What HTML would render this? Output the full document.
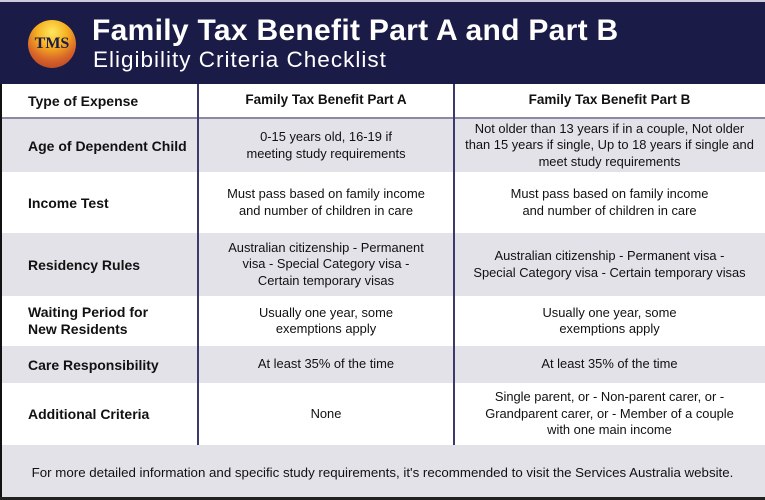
<!DOCTYPE html>
<html><head><meta charset="utf-8"><style>
*{margin:0;padding:0;box-sizing:border-box}
body{width:765px;height:500px;position:relative;background:#fff;font-family:"Liberation Sans",sans-serif;overflow:hidden;color:#111}
.ban{position:absolute;left:0;top:0;width:765px;height:84px;background:#1b1b47;border-top:2px solid #ccd}
.t1{position:absolute;left:92px;top:12px;font-size:30px;font-weight:bold;color:#fff;letter-spacing:0.3px}
.t2{position:absolute;left:93px;top:45px;font-size:22.5px;color:#fff;letter-spacing:1px}
.logo{position:absolute;left:28px;top:18px;width:48px;height:48px;border-radius:50%;background:radial-gradient(circle at 50% 25%,#ffe860 0,#f6b020 35%,#d8642a 65%,#a83a1e 100%)}
.logo span{position:absolute;left:0;width:48px;top:15px;text-align:center;font-family:"Liberation Serif",serif;font-size:16px;font-weight:bold;color:#1b1b47}
.row{position:absolute;left:0;width:765px;font-size:12.9px}
.g{background:#e3e2e8}
.c{position:absolute;top:0;height:100%;display:flex;align-items:center}
.c1{left:28px;width:170px;font-weight:bold;font-size:14px}
.c2{left:198px;width:256px;justify-content:center;text-align:center;line-height:16.5px}
.c3{left:454px;width:311px;justify-content:center;text-align:center;line-height:16.5px}
.v{position:absolute;top:84px;height:361px;width:1.5px;background:#3b3b6a}
.lb{position:absolute;left:0;top:84px;width:2px;height:416px;background:#111}
.bb{position:absolute;left:0;top:497px;width:765px;height:3px;background:#222}
</style></head><body>
<div class="ban"><div class="logo"><span>TMS</span></div>
<div class="t1">Family Tax Benefit Part A and Part B</div>
<div class="t2">Eligibility Criteria Checklist</div></div>
<div class="row" style="top:84px;height:35px;border-bottom:2px solid #8a8aa6"><div class="c c1">Type of Expense</div><div class="c c2" style="font-weight:bold;font-size:13.5px">Family Tax Benefit Part A</div><div class="c c3" style="font-weight:bold;font-size:13.5px">Family Tax Benefit Part B</div></div>
<div class="row g" style="top:119px;height:53px"><div class="c c1">Age of Dependent Child</div><div class="c c2">0-15 years old, 16-19 if<br>meeting study requirements</div><div class="c c3">Not older than 13 years if in a couple, Not older<br>than 15 years if single, Up to 18 years if single and<br>meet study requirements</div></div>
<div class="row" style="top:172px;height:61px"><div class="c c1">Income Test</div><div class="c c2">Must pass based on family income<br>and number of children in care</div><div class="c c3">Must pass based on family income<br>and number of children in care</div></div>
<div class="row g" style="top:233px;height:63px"><div class="c c1">Residency Rules</div><div class="c c2">Australian citizenship - Permanent<br>visa - Special Category visa -<br>Certain temporary visas</div><div class="c c3">Australian citizenship - Permanent visa -<br>Special Category visa - Certain temporary visas</div></div>
<div class="row" style="top:296px;height:50px"><div class="c c1" style="line-height:17px">Waiting Period for<br>New Residents</div><div class="c c2">Usually one year, some<br>exemptions apply</div><div class="c c3">Usually one year, some<br>exemptions apply</div></div>
<div class="row g" style="top:346px;height:37px"><div class="c c1">Care Responsibility</div><div class="c c2">At least 35% of the time</div><div class="c c3">At least 35% of the time</div></div>
<div class="row" style="top:383px;height:62px"><div class="c c1">Additional Criteria</div><div class="c c2">None</div><div class="c c3">Single parent, or - Non-parent carer, or -<br>Grandparent carer, or - Member of a couple<br>with one main income</div></div>
<div class="row g" style="top:445px;height:55px"><div class="c" style="left:0;width:765px;justify-content:center;font-size:13.3px">For more detailed information and specific study requirements, it's recommended to visit the Services Australia website.</div></div>
<div class="v" style="left:197px"></div><div class="v" style="left:453px"></div>
<div class="lb"></div><div class="bb"></div>
</body></html>
